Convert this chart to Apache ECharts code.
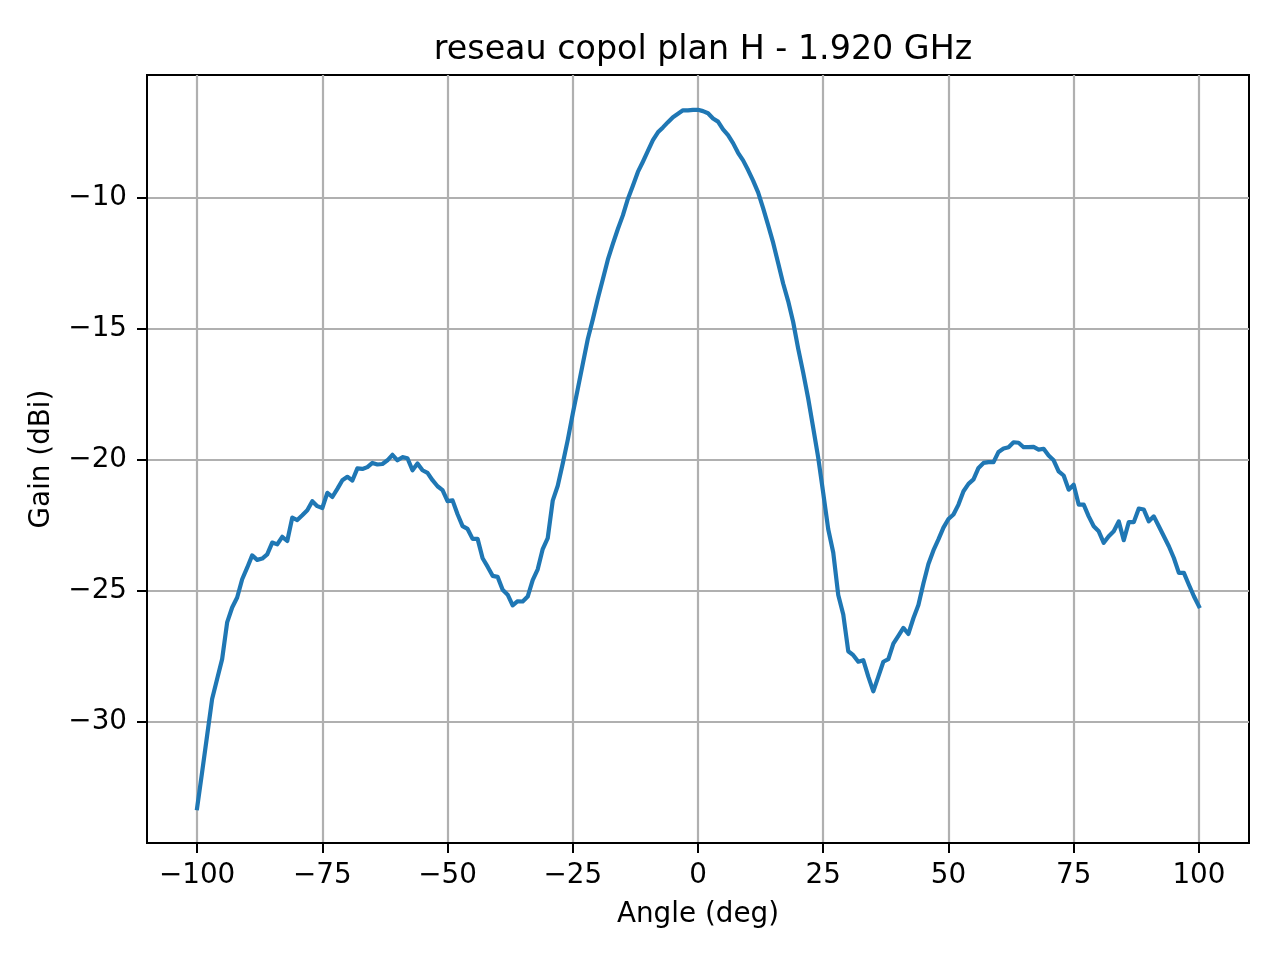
<!DOCTYPE html>
<html>
<head>
<meta charset="utf-8">
<script src="https://cdn.jsdelivr.net/npm/echarts@6/dist/echarts.min.js"></script>
<style>
  html, body { margin: 0; padding: 0; background: #fff; }
  #main { width: 1280px; height: 960px; }
</style>
</head>
<body>
<div id="main"></div>
<script>
// measured pattern, copolar H-plane, 1.920 GHz
var angles = [
  -100, -99, -98, -97, -96, -95, -94, -93, -92, -91,
  -90, -89, -88, -87, -86, -85, -84, -83, -82, -81,
  -80, -79, -78, -77, -76, -75, -74, -73, -72, -71,
  -70, -69, -68, -67, -66, -65, -64, -63, -62, -61,
  -60, -59, -58, -57, -56, -55, -54, -53, -52, -51,
  -50, -49, -48, -47, -46, -45, -44, -43, -42, -41,
  -40, -39, -38, -37, -36, -35, -34, -33, -32, -31,
  -30, -29, -28, -27, -26, -25, -24, -23, -22, -21,
  -20, -19, -18, -17, -16, -15, -14, -13, -12, -11,
  -10, -9, -8, -7, -6, -5, -4, -3, -2, -1,
  0, 1, 2, 3, 4, 5, 6, 7, 8, 9,
  10, 11, 12, 13, 14, 15, 16, 17, 18, 19,
  20, 21, 22, 23, 24, 25, 26, 27, 28, 29,
  30, 31, 32, 33, 34, 35, 36, 37, 38, 39,
  40, 41, 42, 43, 44, 45, 46, 47, 48, 49,
  50, 51, 52, 53, 54, 55, 56, 57, 58, 59,
  60, 61, 62, 63, 64, 65, 66, 67, 68, 69,
  70, 71, 72, 73, 74, 75, 76, 77, 78, 79,
  80, 81, 82, 83, 84, 85, 86, 87, 88, 89,
  90, 91, 92, 93, 94, 95, 96, 97, 98, 99,
  100
];

var gain = [
  -33.31, -31.94, -30.54, -29.14, -28.38, -27.62, -26.22, -25.65, -25.27, -24.57,
  -24.13, -23.66, -23.83, -23.78, -23.62, -23.17, -23.24, -22.95, -23.11, -22.22,
  -22.31, -22.13, -21.94, -21.59, -21.78, -21.85, -21.27, -21.43, -21.12, -20.79,
  -20.66, -20.80, -20.34, -20.36, -20.29, -20.13, -20.19, -20.17, -20.03, -19.82,
  -20.03, -19.91, -19.95, -20.41, -20.15, -20.41, -20.51, -20.79, -21.02, -21.17,
  -21.59, -21.56, -22.09, -22.54, -22.65, -23.03, -23.03, -23.77, -24.09, -24.44,
  -24.48, -24.97, -25.16, -25.57, -25.41, -25.42, -25.23, -24.60, -24.19, -23.42,
  -23.00, -21.57, -21.00, -20.15, -19.25, -18.25, -17.30, -16.35, -15.40, -14.65,
  -13.85, -13.12, -12.37, -11.77, -11.20, -10.68, -10.05, -9.55, -9.02, -8.63,
  -8.22, -7.81, -7.51, -7.32, -7.12, -6.93, -6.80, -6.67, -6.67, -6.65,
  -6.65, -6.70, -6.78, -6.98, -7.10, -7.40, -7.62, -7.92, -8.29, -8.58,
  -8.95, -9.35, -9.80, -10.40, -11.05, -11.72, -12.50, -13.28, -13.95, -14.75,
  -15.77, -16.68, -17.67, -18.79, -19.93, -21.28, -22.66, -23.55, -25.17, -25.92,
  -27.32, -27.47, -27.72, -27.66, -28.29, -28.85, -28.29, -27.72, -27.62, -27.03,
  -26.73, -26.43, -26.66, -26.06, -25.55, -24.73, -23.99, -23.47, -23.05, -22.60,
  -22.27, -22.10, -21.72, -21.21, -20.93, -20.76, -20.32, -20.13, -20.10, -20.10,
  -19.71, -19.58, -19.53, -19.34, -19.36, -19.53, -19.53, -19.52, -19.62, -19.59,
  -19.85, -20.03, -20.45, -20.61, -21.15, -20.96, -21.72, -21.72, -22.17, -22.55,
  -22.74, -23.18, -22.93, -22.74, -22.36, -23.08, -22.39, -22.39, -21.87, -21.91,
  -22.36, -22.17, -22.55, -22.93, -23.31, -23.76, -24.33, -24.33, -24.78, -25.22,
  -25.60
];

var xTicks = [-100, -75, -50, -25, 0, 25, 50, 75, 100];
var yTicks = [-30, -25, -20, -15, -10];

var font = 'DejaVu Sans';

// matplotlib style minus sign
function fmt (v) {
  return v < 0 ? '\u2212' + (-v) : String(v);
}

var points = angles.map(function (a, i) { return [a, gain[i]]; });

var chart = echarts.init(document.getElementById('main'), null, { renderer: 'canvas' });

chart.setOption({
  animation: false,
  backgroundColor: '#fff',
  title: {
    text: 'reseau copol plan H - 1.920 GHz',
    left: 698,
    textAlign: 'center',
    top: 29,
    textStyle: { fontFamily: font, fontSize: 33.3, fontWeight: 'normal', color: '#000' }
  },
  grid: {
    left: 147, right: 31, top: 75, bottom: 117,
    show: true, borderColor: '#000', borderWidth: 2, backgroundColor: 'transparent'
  },
  xAxis: {
    type: 'value',
    min: -110, max: 110,
    name: 'Angle (deg)',
    nameLocation: 'middle',
    nameGap: 58,
    nameTextStyle: { fontFamily: font, fontSize: 27.8, color: '#000' },
    axisLine: { show: true, onZero: false, lineStyle: { color: '#000', width: 2 } },
    axisTick: { show: true, inside: false, length: 10, customValues: xTicks, lineStyle: { color: '#000', width: 2 } },
    axisLabel: { customValues: xTicks, margin: 19, fontFamily: font, fontSize: 27.8, color: '#000', formatter: fmt },
    splitLine: { show: true, lineStyle: { color: '#b0b0b0', width: 2.2 } }
  },
  yAxis: {
    type: 'value',
    min: -34.64, max: -5.32,
    name: 'Gain (dBi)',
    nameLocation: 'middle',
    nameGap: 91,
    nameTextStyle: { fontFamily: font, fontSize: 27.8, color: '#000' },
    axisLine: { show: true, onZero: false, lineStyle: { color: '#000', width: 2 } },
    axisTick: { show: true, inside: false, length: 10, customValues: yTicks, lineStyle: { color: '#000', width: 2 } },
    axisLabel: { customValues: yTicks, margin: 20, fontFamily: font, fontSize: 27.8, color: '#000', formatter: fmt },
    splitLine: { show: true, lineStyle: { color: '#b0b0b0', width: 2.2 } }
  },
  series: [{
    type: 'line',
    data: points,
    showSymbol: false,
    clip: true,
    lineStyle: { color: '#1f77b4', width: 4.2, join: 'round', cap: 'square' },
    z: 3
  }]
});
</script>
</body>
</html>
